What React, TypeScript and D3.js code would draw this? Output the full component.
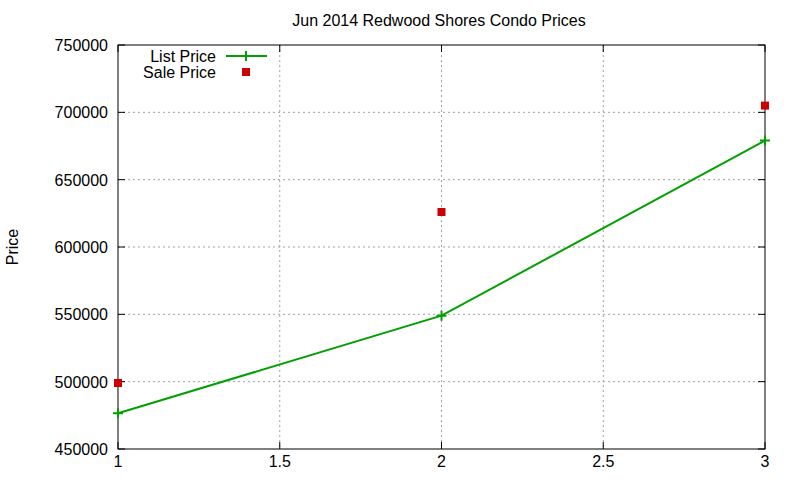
import { useEffect, useRef } from 'react';
import * as d3 from 'd3';

const xValues = [1, 2, 3];
const listPrice = [476500, 549000, 679000];
const salePrice = [499000, 626000, 705000];
const xTicks = [1, 1.5, 2, 2.5, 3];
const yTicks = [450000, 500000, 550000, 600000, 650000, 700000, 750000];

const FONT = '"Liberation Sans", Arial, sans-serif';
const FS = 16;

export default function App() {
  const svgRef = useRef<SVGSVGElement>(null);

  useEffect(() => {
    if (!svgRef.current) return;
    const width = 800;
    const height = 480;
    const margin = { top: 45, right: 35, bottom: 31, left: 118 };
    const innerWidth = width - margin.left - margin.right;
    const innerHeight = height - margin.top - margin.bottom;

    const svg = d3.select(svgRef.current);
    svg.selectAll('*').remove();
    svg.attr('width', width).attr('height', height);

    svg
      .append('rect')
      .attr('width', width)
      .attr('height', height)
      .attr('fill', '#fff');

    const g = svg.append('g').attr('transform', `translate(${margin.left},${margin.top})`);

    const x = d3.scaleLinear().domain([1, 3]).range([0, innerWidth]);
    const y = d3.scaleLinear().domain([450000, 750000]).range([innerHeight, 0]);

    // Grid
    xTicks.slice(1, -1).forEach((t) => {
      g.append('line')
        .attr('x1', x(t))
        .attr('x2', x(t))
        .attr('y1', 0)
        .attr('y2', innerHeight)
        .attr('stroke', '#a0a0a0')
        .attr('stroke-dasharray', '2,3');
    });
    yTicks.slice(1, -1).forEach((t) => {
      g.append('line')
        .attr('x1', 0)
        .attr('x2', innerWidth)
        .attr('y1', y(t))
        .attr('y2', y(t))
        .attr('stroke', '#a0a0a0')
        .attr('stroke-dasharray', '2,3');
    });

    // Ticks (mirrored, inward)
    yTicks.forEach((t) => {
      g.append('line').attr('x1', 0).attr('x2', 7).attr('y1', y(t)).attr('y2', y(t)).attr('stroke', '#000');
      g.append('line')
        .attr('x1', innerWidth - 7)
        .attr('x2', innerWidth)
        .attr('y1', y(t))
        .attr('y2', y(t))
        .attr('stroke', '#000');
      g.append('text')
        .attr('x', -10)
        .attr('y', y(t) + 6)
        .attr('text-anchor', 'end')
        .attr('font-family', FONT)
        .attr('font-size', FS)
        .text(String(t));
    });
    xTicks.forEach((t) => {
      g.append('line').attr('x1', x(t)).attr('x2', x(t)).attr('y1', innerHeight).attr('y2', innerHeight - 7).attr('stroke', '#000');
      g.append('line').attr('x1', x(t)).attr('x2', x(t)).attr('y1', 0).attr('y2', 7).attr('stroke', '#000');
      g.append('text')
        .attr('x', x(t))
        .attr('y', innerHeight + 18)
        .attr('text-anchor', 'middle')
        .attr('font-family', FONT)
        .attr('font-size', FS)
        .text(String(t));
    });

    // Border
    g.append('rect')
      .attr('width', innerWidth)
      .attr('height', innerHeight)
      .attr('fill', 'none')
      .attr('stroke', '#000');

    // List price line
    const line = d3
      .line<number>()
      .x((_, i) => x(xValues[i]))
      .y((d) => y(d));
    g.append('path')
      .datum(listPrice)
      .attr('d', line)
      .attr('fill', 'none')
      .attr('stroke', '#00a000')
      .attr('stroke-width', 2);
    listPrice.forEach((v, i) => {
      const cx = x(xValues[i]);
      const cy = y(v);
      g.append('path')
        .attr('d', `M${cx - 5},${cy}H${cx + 5}M${cx},${cy - 5}V${cy + 5}`)
        .attr('stroke', '#00a000')
        .attr('stroke-width', 2);
    });

    // Sale price points
    salePrice.forEach((v, i) => {
      g.append('rect')
        .attr('x', x(xValues[i]) - 4)
        .attr('y', y(v) - 4)
        .attr('width', 8)
        .attr('height', 8)
        .attr('fill', '#cc0000');
    });

    // Legend
    const legend = svg.append('g');
    legend
      .append('text')
      .attr('x', 216)
      .attr('y', 62)
      .attr('text-anchor', 'end')
      .attr('font-family', FONT)
      .attr('font-size', FS)
      .text('List Price');
    legend
      .append('line')
      .attr('x1', 226)
      .attr('x2', 267)
      .attr('y1', 56)
      .attr('y2', 56)
      .attr('stroke', '#00a000')
      .attr('stroke-width', 2);
    legend
      .append('path')
      .attr('d', 'M241,56H251M246,51V61')
      .attr('stroke', '#00a000')
      .attr('stroke-width', 2);
    legend
      .append('text')
      .attr('x', 216)
      .attr('y', 78)
      .attr('text-anchor', 'end')
      .attr('font-family', FONT)
      .attr('font-size', FS)
      .text('Sale Price');
    legend
      .append('rect')
      .attr('x', 242)
      .attr('y', 68)
      .attr('width', 8)
      .attr('height', 8)
      .attr('fill', '#cc0000');

    // Title
    svg
      .append('text')
      .attr('x', 439)
      .attr('y', 26)
      .attr('text-anchor', 'middle')
      .attr('font-family', FONT)
      .attr('font-size', FS)
      .text('Jun 2014 Redwood Shores Condo Prices');

    // Y label
    svg
      .append('text')
      .attr('transform', 'translate(18,247) rotate(-90)')
      .attr('text-anchor', 'middle')
      .attr('font-family', FONT)
      .attr('font-size', FS)
      .text('Price');
  }, []);

  return (
    <div style={{ position: 'absolute', left: 0, top: 0 }}>
      <svg ref={svgRef} />
    </div>
  );
}
